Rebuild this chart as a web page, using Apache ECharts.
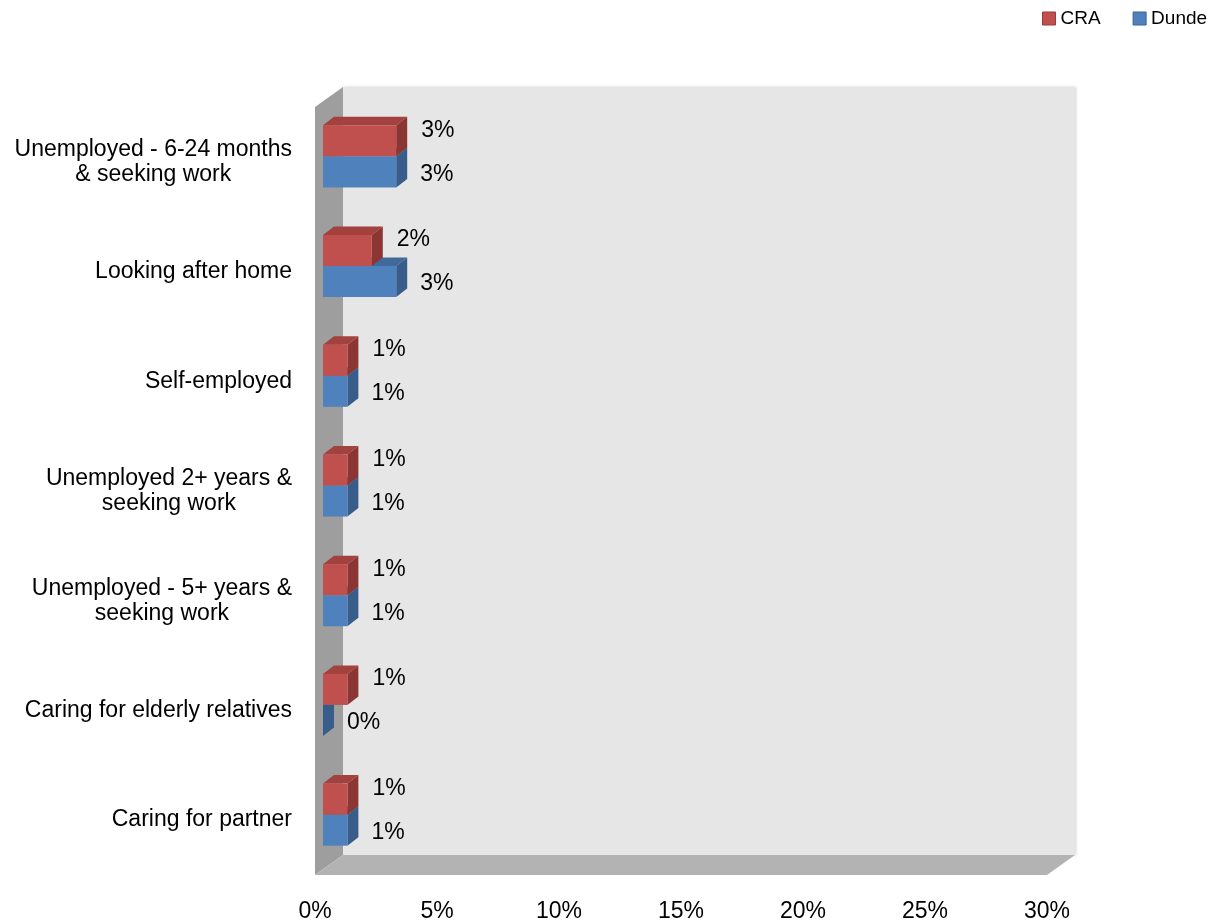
<!DOCTYPE html>
<html>
<head>
<meta charset="utf-8">
<script src="https://cdn.jsdelivr.net/npm/echarts@6/dist/echarts.min.js"></script>
<style>
  html, body { margin: 0; padding: 0; background: #ffffff; }
  #chart { width: 1221px; height: 923px; }
</style>
</head>
<body>
<div id="chart"></div>
<script>
// Categories, top to bottom
const categories = [
  'Unemployed - 6-24 months\n& seeking work',
  'Looking after home',
  'Self-employed',
  'Unemployed 2+ years &\nseeking work',
  'Unemployed - 5+ years &\nseeking work',
  'Caring for elderly relatives',
  'Caring for partner'
];
// Percentages per category
const craValues = [3, 2, 1, 1, 1, 1, 1];
const dundeValues = [3, 3, 1, 1, 1, 0, 1];
// Value axis ticks (percent)
const axisMin = 0;
const axisMax = 30;
const axisStep = 5;

const FONT = '"Liberation Sans", Arial, Helvetica, sans-serif';
const LABEL_SIZE = 23;

// Pseudo-3D geometry (pixel offsets for the receding direction)
const WALL_DEPTH = [28, -20];
const BAR_FRONT = [8, -5.5];
const BAR_DEPTH = [11, -8.5];
const BAR_FRAC = 0.283;

const RED = { front: '#C0504D', top: '#A3413E', side: '#8C3634' };
const BLUE = { front: '#4F81BD', top: '#41699A', side: '#385D8A' };

function renderWalls(params, api) {
  const cs = params.coordSys;
  const x0 = cs.x, y0 = cs.y, x1 = cs.x + cs.width, y1 = cs.y + cs.height;
  const dx = WALL_DEPTH[0], dy = WALL_DEPTH[1];
  return {
    type: 'group',
    children: [
      {
        type: 'rect',
        shape: { x: x0 + dx, y: y0 + dy, width: cs.width, height: cs.height },
        style: { fill: '#E6E6E6', shadowBlur: 3, shadowColor: 'rgba(0,0,0,0.18)', shadowOffsetX: 1 }
      },
      {
        type: 'polygon',
        shape: { points: [[x0, y0], [x0 + dx, y0 + dy], [x0 + dx, y1 + dy], [x0, y1]] },
        style: { fill: '#9E9E9E' }
      },
      {
        type: 'polygon',
        shape: { points: [[x0, y1], [x0 + dx, y1 + dy], [x1 + dx, y1 + dy], [x1, y1]] },
        style: { fill: '#B3B3B3' }
      }
    ]
  };
}

function makeBarRenderer(upper, colors, labelDx, labelDy) {
  return function (params, api) {
    const v = api.value(0);
    const c = api.value(1);
    const p0 = api.coord([0, c]);
    const p1 = api.coord([v, c]);
    const band = api.size([0, 1])[1];
    const h = band * BAR_FRAC;
    const base = p0[1] + BAR_FRONT[1];
    const top = upper ? base - h : base;
    const bottom = top + h;
    const xl = p0[0] + BAR_FRONT[0];
    const xr = p1[0] + BAR_FRONT[0];
    const dx = BAR_DEPTH[0], dy = BAR_DEPTH[1];
    return {
      type: 'group',
      children: [
        {
          type: 'polygon',
          shape: { points: [[xl, top], [xr, top], [xr + dx, top + dy], [xl + dx, top + dy]] },
          style: { fill: colors.top }
        },
        {
          type: 'polygon',
          shape: { points: [[xr, top], [xr + dx, top + dy], [xr + dx, bottom + dy], [xr, bottom]] },
          style: { fill: colors.side }
        },
        {
          type: 'rect',
          shape: { x: xl, y: top, width: xr - xl, height: h },
          style: { fill: colors.front }
        },
        {
          type: 'text',
          style: {
            text: v + '%',
            x: xr + labelDx,
            y: base + labelDy,
            fill: '#000000',
            font: LABEL_SIZE + 'px ' + FONT,
            align: 'left',
            verticalAlign: 'middle'
          }
        }
      ]
    };
  };
}

function toPairs(values) {
  return values.map(function (v, i) { return [v, i]; });
}

const chart = echarts.init(document.getElementById('chart'), null, { renderer: 'canvas' });

chart.setOption({
  animation: false,
  backgroundColor: '#ffffff',
  textStyle: { fontFamily: FONT },
  legend: {
    data: [
      { name: 'CRA', itemStyle: { borderColor: '#9B3B38', borderWidth: 1 } },
      { name: 'Dunde', itemStyle: { borderColor: '#3A6296', borderWidth: 1 } }
    ],
    left: 1042,
    top: 9,
    padding: 0,
    icon: 'rect',
    itemWidth: 13,
    itemHeight: 13,
    itemGap: 32,
    textStyle: { fontSize: 19, color: '#000000', fontFamily: FONT }
  },
  grid: {
    left: 315,
    right: 174,
    top: 107,
    bottom: 48,
    containLabel: false,
    outerBoundsMode: 'none'
  },
  xAxis: {
    type: 'value',
    min: axisMin,
    max: axisMax,
    interval: axisStep,
    axisLine: { show: false },
    axisTick: { show: false },
    splitLine: { show: false },
    axisLabel: {
      formatter: '{value}%',
      fontSize: LABEL_SIZE,
      color: '#000000',
      fontFamily: FONT,
      margin: 25
    }
  },
  yAxis: {
    type: 'category',
    data: categories,
    inverse: true,
    axisLine: { show: false },
    axisTick: { show: false },
    splitLine: { show: false },
    axisLabel: {
      margin: 23,
      align: 'right',
      color: '#000000',
      fontSize: LABEL_SIZE,
      fontFamily: FONT,
      formatter: function (val) {
        return val.split('\n').map(function (l) { return '{c|' + l + '}'; }).join('\n');
      },
      rich: {
        c: { align: 'center', fontSize: LABEL_SIZE, fontFamily: FONT, color: '#000000', lineHeight: 25 }
      }
    }
  },
  series: [
    {
      name: 'walls',
      type: 'custom',
      renderItem: renderWalls,
      data: [[0, 0]],
      silent: true,
      z: 1
    },
    {
      name: 'Dunde',
      type: 'custom',
      itemStyle: { color: BLUE.front },
      renderItem: makeBarRenderer(false, BLUE, 24, 18),
      encode: { x: 0, y: 1 },
      data: toPairs(dundeValues),
      z: 2
    },
    {
      name: 'CRA',
      type: 'custom',
      itemStyle: { color: RED.front },
      renderItem: makeBarRenderer(true, RED, 25, -26),
      encode: { x: 0, y: 1 },
      data: toPairs(craValues),
      z: 3
    }
  ]
});
</script>
</body>
</html>
